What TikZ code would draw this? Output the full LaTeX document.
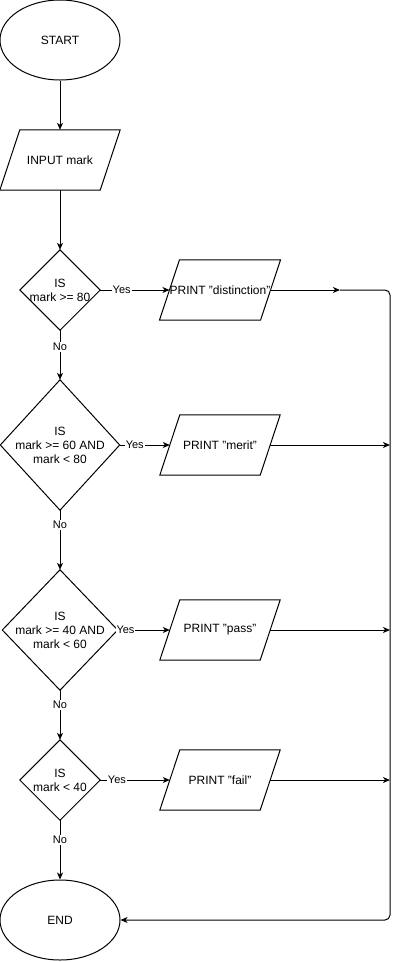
\documentclass[tikz,border=0pt]{standalone}
\usepackage{fontspec}
\setmainfont{Liberation Sans}
\usetikzlibrary{shapes.geometric,arrows.meta}
\begin{document}
\begin{tikzpicture}[x=1pt,y=-1pt,
  every node/.style={font=\fontsize{12}{14}\selectfont, align=center, inner sep=0pt},
  term/.style={ellipse, draw, line width=1pt, minimum width=120pt, minimum height=80pt},
  box/.style={minimum width=100pt, minimum height=60pt},
  dec/.style={},
  ln/.style={line width=1pt},
  arr/.style={line width=1pt, -{Stealth[length=7pt,width=6pt,inset=2pt]}},
  lbl/.style={fill=white, font=\fontsize{11}{13}\selectfont, inner sep=1pt}]
\useasboundingbox[fill=white] (0,0) rectangle (400,962);

\node[term] (start) at (60,40) {START};
\node[box] (inp) at (60,160) {INPUT mark};
\node[dec, minimum width=80pt, minimum height=80pt] (d1) at (60,290) {IS\\mark >= 80};
\node[dec, minimum width=119pt, minimum height=130pt] (d2) at (60,445) {IS\\mark >= 60 AND\\mark < 80};
\node[dec, minimum width=115pt, minimum height=120pt] (d3) at (60,630) {IS\\mark >= 40 AND\\mark < 60};
\node[dec, minimum width=80pt, minimum height=80pt] (d4) at (60,780) {IS\\mark < 40};
\node[term] (end) at (60,920) {END};

\node[box] (dist) at (220,290) {PRINT "distinction"};
\node[box] (merit) at (220,445) {PRINT "merit"};
\node[box] (pass) at (220,630) {PRINT "pass"};
\node[box] (fail) at (220,780) {PRINT "fail"};

\foreach \n in {inp,dist,merit,pass,fail}
  \draw[ln, line join=miter] ([xshift=-10pt]\n.south west) -- ([xshift=-10pt]\n.south east)
     -- ([xshift=10pt]\n.north east) -- ([xshift=10pt]\n.north west) -- cycle;
\foreach \n in {d1,d2,d3,d4}
  \draw[ln] (\n.north) -- (\n.east) -- (\n.south) -- (\n.west) -- cycle;

\coordinate (mid) at (340,290);
\coordinate (c1) at (390,290);
\coordinate (c2) at (390,920);
\coordinate (m2) at (390,445);
\coordinate (p2) at (390,630);
\coordinate (f2) at (390,780);

\draw[arr] (start) -- (inp);
\draw[arr] (inp.south) -- (d1.north);
\draw[arr] (d1.south) -- node[lbl, pos=0.34] {No} (d2.north);
\draw[arr] (d2.south) -- node[lbl, pos=0.25] {No} (d3.north);
\draw[arr] (d3.south) -- node[lbl, pos=0.3] {No} (d4.north);
\draw[arr] (d4.south) -- node[lbl, pos=0.33] {No} (end.north);

\draw[arr] (d1.east) -- node[lbl, pos=0.31] {Yes} (dist.west);
\draw[arr] (d2.east) -- node[lbl, pos=0.3] {Yes} (merit.west);
\draw[arr] (d3.east) -- node[lbl, pos=0.15] {Yes} (pass.west);
\draw[arr] (d4.east) -- node[lbl, pos=0.24] {Yes} (fail.west);

\draw[arr] (dist.east) -- (mid);
\draw[arr, rounded corners=5pt] (mid) -- (c1) -- (c2) -- (end.east);
\draw[arr] (merit.east) -- (m2);
\draw[arr] (pass.east) -- (p2);
\draw[arr] (fail.east) -- (f2);
\end{tikzpicture}
\end{document}
